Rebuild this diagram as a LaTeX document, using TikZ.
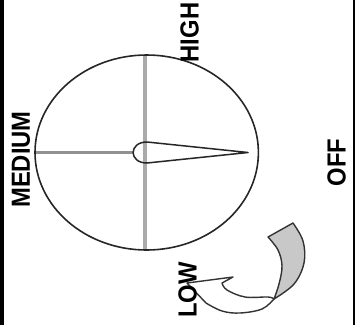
\documentclass[tikz,border=0pt]{standalone}
\usepackage{graphicx}
\usepackage{fontspec}
\setmainfont{Liberation Sans}
\begin{document}
\begin{tikzpicture}[x=1pt,y=-1pt,
  lbl/.style={font=\bfseries\fontsize{23.8}{24}\selectfont, rotate=90, inner sep=0pt, text=black},
  frameline/.style={fill=black},
  vline/.style={line width=4.5pt, draw={rgb,255:red,170;green,170;blue,170}},
  hline/.style={line width=2.6pt, draw={rgb,255:red,145;green,145;blue,145}},
  dialline/.style={line width=1.6pt, draw=black!85},
  needle/.style={line width=1.5pt, draw=black!85, line join=round},
  ribbonback/.style={fill={rgb,255:red,200;green,200;blue,200}, draw=black!80, line width=1.4pt, line join=round},
  ribbonfront/.style={fill=white, draw=black!80, line width=1.4pt, line join=round}]
\useasboundingbox (0,0) rectangle (355,325);
% frame
\fill[frameline] (0,0) rectangle (3.5,325);
\fill[frameline] (353,0) rectangle (355,325);
% dial
\draw[vline] (145,55) -- (145,250);
\draw[hline] (35,152.5) -- (134,152.5);
\draw[dialline] (146.7,152.5) ellipse [x radius=111.7, y radius=97.5];
% needle
\draw[needle] (147,142) -- (248,152.5) -- (147,163)
  .. controls (128.5,163) and (128.5,142) .. (147,142) -- cycle;
% curved ribbon arrow
\draw[ribbonback] (268,237) -- (293,223)
  -- plot[smooth, tension=0.6] coordinates {(293,223) (303,241) (304,263) (294,284) (274,299)}
  -- plot[smooth, tension=0.6] coordinates {(274,299) (279,284) (282,266) (278,250) (268,237)}
  -- cycle;
\draw[ribbonfront] (274,299)
  -- plot[smooth, tension=0.6] coordinates {(274,299) (262,309) (240,313) (222,311) (206,303)}
  -- (187,283) -- (233,277) -- (222,283)
  -- plot[smooth, tension=0.6] coordinates {(222,283) (227,290) (245,297) (268,297) (274,299)}
  -- cycle;
% labels
\node[lbl] (high) at (189.5,32.5) {\scalebox{1}[1.1]{HIGH}};
\node[lbl] (medium) at (21,159.5) {\scalebox{1}[1.1]{MEDIUM}};
\node[lbl] (off) at (336.5,162.5) {\scalebox{1}[1.1]{OFF}};
\node[lbl] (low) at (187.5,290) {\scalebox{1}[1.1]{LOW}};
\end{tikzpicture}
\end{document}
